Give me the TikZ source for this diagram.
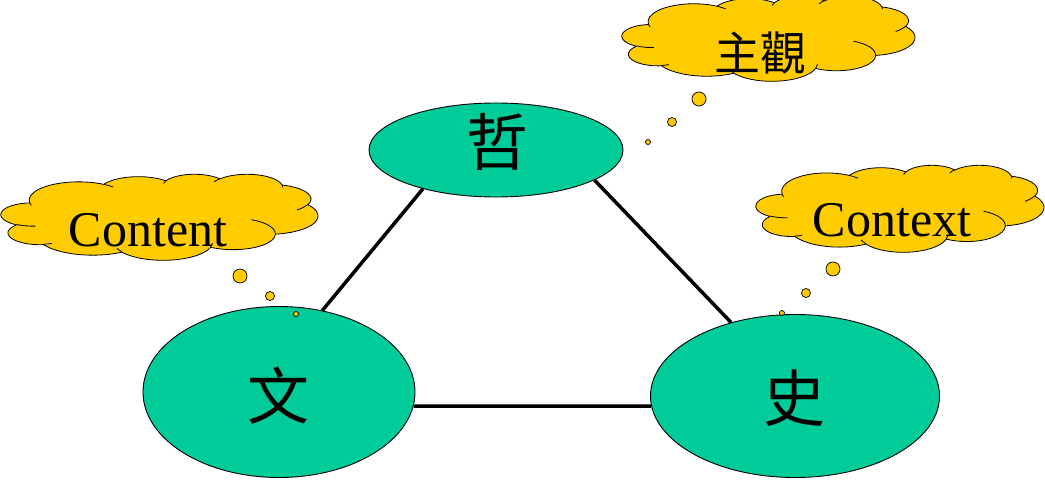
\documentclass[tikz,border=0pt]{standalone}
\usepackage{fontspec}
\setmainfont{Liberation Serif}
\newfontfamily\cjk{Noto Sans CJK TC}
\usetikzlibrary{shapes.geometric}
\definecolor{cloudyellow}{HTML}{FFCC00}
\definecolor{nodegreen}{HTML}{00CC99}
\tikzset{
  topic/.style={ellipse, draw=black, line width=0.9pt, fill=nodegreen, inner sep=0pt},
  topictext/.style={font=\cjk\fontsize{62}{62}\selectfont, inner sep=0pt},
  thoughtfill/.style={draw=black, line width=0.8pt, fill=cloudyellow, line join=round},
  thoughtline/.style={draw=black, line width=0.8pt},
  thoughttext/.style={font=\fontsize{50}{50}\selectfont, inner sep=0pt, anchor=base},
  bubble/.style={circle, draw=black, line width=0.7pt, fill=cloudyellow, inner sep=0pt},
  link/.style={line width=3.5pt, black}
}
% elliptic arc given by radii, visual start angle and sweep (degrees, y down)
\newcommand\carc[4]{arc[start angle={atan2(sin(#3)*#1,cos(#3)*#2)},
  delta angle={mod(atan2(sin(#3+#4)*#1,cos(#3+#4)*#2)-atan2(sin(#3)*#1,cos(#3)*#2)+720,360)},
  x radius=#1, y radius=#2]}
% cloud: top-left corner (#1,#2), width #3, height #4
\newcommand\thoughtcloud[4]{%
  \begin{scope}[shift={(#1,#2)}, x=1pt, y=1pt, xscale=#3/432, yscale=-#4/432]
    \path[thoughtfill] (39.00,143.70)
      \carc{67.53}{91.90}{-190.4875}{123.7805}
      \carc{53.33}{72.67}{-144.1024}{89.9452}
      \carc{43.65}{59.45}{-145.8079}{99.7230}
      \carc{48.57}{65.95}{-130.9861}{117.2417}
      \carc{53.33}{72.73}{-78.7089}{109.0269}
      \carc{67.75}{92.20}{-46.2673}{130.2690}
      \carc{57.85}{78.67}{0.6250}{114.0333}
      \carc{67.52}{92.15}{22.4516}{115.1726}
      \carc{77.20}{105.43}{66.2426}{75.7110}
      \carc{43.60}{59.18}{-274.9421}{146.7356}
      \carc{43.45}{59.45}{-246.8285}{152.5189}
      -- cycle;
    \path[thoughtline]
      (46.93,261.77) \carc{43.45}{59.45}{86.7420}{26.4295}
      (69.28,348.99) \carc{43.60}{59.18}{73.6105}{11.4475}
      (164.78,390.90) \carc{67.52}{92.15}{137.6242}{14.0811}
      (288.27,347.51) \carc{67.52}{92.15}{6.4533}{15.9984}
      (341.29,229.54) \carc{57.85}{78.67}{-70.2924}{70.9174}
      (417.98,153.54) \carc{53.33}{72.73}{30.3180}{27.7515}
      (383.24,54.26) \carc{48.57}{65.95}{-13.7443}{14.8589}
      (290.78,39.52) \carc{48.57}{65.95}{-149.1815}{18.1954}
      (221.41,47.20) \carc{43.65}{59.45}{-163.4943}{19.0155}
      (140.00,51.92) \carc{67.53}{91.90}{-66.7070}{12.3194}
      (41.27,157.89) \carc{67.53}{91.90}{157.6544}{11.8582};
  \end{scope}}
\begin{document}
\begin{tikzpicture}[x=1pt,y=-1pt]
\useasboundingbox (0,0) rectangle (1045,482);
% links
\node[topic, minimum width=254pt, minimum height=94pt] (zhe) at (496,150) {};
\node[topic, minimum width=272pt, minimum height=171pt] (wen) at (279,392) {};
\node[topic, minimum width=289pt, minimum height=163pt] (shi) at (795,396) {};
\draw[link] (zhe.208) -- (wen.62);
\draw[link] (zhe.343.5) -- (shi.131.6);
\draw[link] (wen.354) -- (shi.184);
\node[topictext] (zheT) at (497,142) {哲};
\node[topictext] (wenT) at (278,396) {文};
\node[topictext] (shiT) at (794,398) {史};
% clouds
\thoughtcloud{1}{174}{317}{86}
\node[thoughttext] (contentT) at (148,246) {Content};
\thoughtcloud{622}{-4}{293}{85}
\node[font=\cjk\fontsize{46}{46}\selectfont, inner sep=0pt] (zhuguanT) at (760,53) {主觀};
\thoughtcloud{756}{165}{288}{87}
\node[thoughttext] (contextT) at (892,236) {Context};
% bubbles
\node[bubble, minimum size=14pt] (bl1) at (240,276) {};
\node[bubble, minimum size=9pt] (bl2) at (270,296) {};
\node[bubble, minimum size=5pt] (bl3) at (296,314) {};
\node[bubble, minimum size=14pt] (bt1) at (699,99) {};
\node[bubble, minimum size=9pt] (bt2) at (672,122) {};
\node[bubble, minimum size=5pt] (bt3) at (648,142) {};
\node[bubble, minimum size=14pt] (br1) at (833,269) {};
\node[bubble, minimum size=9pt] (br2) at (806,293) {};
\node[bubble, minimum size=5pt] (br3) at (782,313) {};
\end{tikzpicture}
\end{document}
